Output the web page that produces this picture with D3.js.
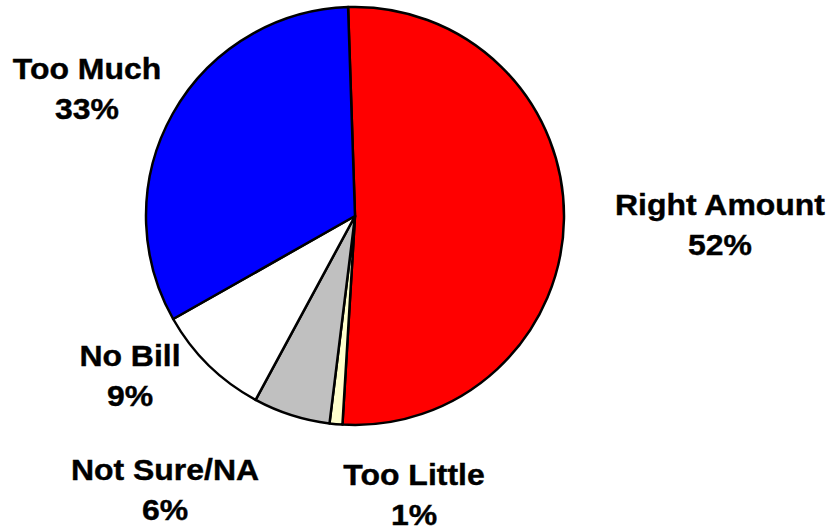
<!DOCTYPE html>
<html>
<head>
<meta charset="utf-8">
<script src="https://cdn.jsdelivr.net/npm/d3@7"></script>
<style>
  html, body { margin: 0; padding: 0; background: #fff; }
  svg { display: block; }
  text { font-family: "Liberation Sans", Arial, sans-serif; font-weight: bold; fill: #000; }
</style>
</head>
<body>
<svg id="chart" width="832" height="531"></svg>
<script>
// Survey answers, clockwise from the top
const categories = ["Right Amount", "Too Little", "Not Sure/NA", "No Bill", "Too Much"];
const values = [52, 1, 6, 9, 33];
const colors = ["#FF0000", "#FFFFCC", "#C0C0C0", "#FFFFFF", "#0000FF"];

// Label anchor points (centre of the first text line's baseline)
const labelAnchors = [[720, 215], [414, 485], [165, 480], [130, 366], [87, 79]];

const width = 832, height = 531;
const cx = 355, cy = 216, radius = 209;
const startOffset = -1.9 * Math.PI / 180;

const svg = d3.select("#chart");

const pie = d3.pie()
  .sort(null)
  .value(d => d.value)
  .startAngle(startOffset)
  .endAngle(startOffset + 2 * Math.PI);

const data = categories.map((c, i) => ({ name: c, value: values[i], color: colors[i] }));
const arcs = pie(data);

const arc = d3.arc().innerRadius(0).outerRadius(radius);

const g = svg.append("g").attr("transform", `translate(${cx},${cy})`);

g.selectAll("path")
  .data(arcs)
  .join("path")
  .attr("d", arc)
  .attr("fill", d => d.data.color)
  .attr("stroke", "#000")
  .attr("stroke-width", 2.5)
  .attr("stroke-linejoin", "round");

const fmt = v => v + "%";

const labels = svg.selectAll("g.label")
  .data(arcs)
  .join("g")
  .attr("class", "label")
  .attr("transform", (d, i) => `translate(${labelAnchors[i][0]},${labelAnchors[i][1]}) scale(1.065,1)`);

labels.append("text")
  .attr("text-anchor", "middle")
  .attr("font-size", 30)
  .attr("stroke", "#000")
  .attr("stroke-width", 0.4)
  .text(d => d.data.name);

labels.append("text")
  .attr("text-anchor", "middle")
  .attr("font-size", 30)
  .attr("stroke", "#000")
  .attr("stroke-width", 0.4)
  .attr("y", 40)
  .text(d => fmt(d.data.value));
</script>
</body>
</html>
